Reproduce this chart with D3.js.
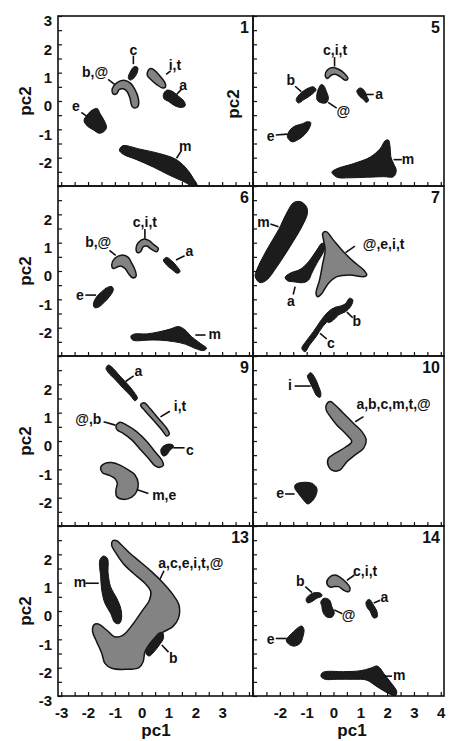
<!DOCTYPE html>
<html>
<head>
<meta charset="utf-8">
<script src="https://cdnjs.cloudflare.com/ajax/libs/d3/7.8.5/d3.min.js"></script>
<style>
body { margin: 0; background: #fff; }
svg text { font-family: "Liberation Sans", Arial, Helvetica, sans-serif; font-weight: bold; fill: #111; }
</style>
</head>
<body>
<div id="chart"></div>
<script>
// panel names, in reading order (2 columns x 4 rows)
var panelNames = ["1", "5", "6", "7", "9", "10", "13", "14"];

// tick labels
var yLabelsTop = [3, 2, 1, 0, -1, -2];
var yLabelsMid = [2, 1, 0, -1, -2];
var yLabelsBottom = [2, 1, 0, -1, -2, -3];
var xLabelsLeft = [-3, -2, -1, 0, 1, 2, 3];
var xLabelsRight = [-2, -1, 0, 1, 2, 3, 4];

// region outlines, [pc1, pc2]
var p1_bat = [[-1.10,0.43],[-0.93,0.64],[-0.66,0.73],[-0.41,0.62],[-0.25,0.40],[-0.13,0.11],[-0.13,-0.17],[-0.25,-0.25],[-0.37,-0.17],[-0.44,0.11],[-0.56,0.35],[-0.69,0.43],[-0.84,0.40],[-0.93,0.26],[-1.06,0.25]];
var p1_c = [[-0.50,0.82],[-0.41,1.06],[-0.28,1.21],[-0.15,1.18],[-0.16,1.02],[-0.31,0.79],[-0.44,0.74]];
var p1_it = [[0.21,1.0],[0.31,1.14],[0.46,1.10],[0.68,0.88],[0.87,0.64],[0.89,0.5],[0.78,0.46],[0.56,0.58],[0.34,0.76],[0.22,0.88]];
var p1_a = [[0.81,0.23],[0.93,0.38],[1.12,0.35],[1.37,0.17],[1.58,-0.01],[1.62,-0.17],[1.49,-0.23],[1.24,-0.17],[0.99,-0.01],[0.83,0.08]];
var p1_e = [[-2.03,-0.49],[-1.83,-0.31],[-1.65,-0.27],[-1.56,-0.43],[-1.41,-0.67],[-1.31,-0.93],[-1.41,-1.08],[-1.58,-1.14],[-1.80,-1.02],[-2.03,-0.88],[-2.15,-0.69]];
var p1_m = [[-0.71,-1.58],[-0.06,-1.70],[0.68,-1.86],[1.24,-2.04],[1.62,-2.33],[1.90,-2.69],[2.08,-3.02],[1.99,-3.07],[1.62,-2.87],[1.06,-2.63],[0.43,-2.33],[-0.19,-2.07],[-0.69,-1.88],[-0.83,-1.74]];

var p5_cit = [[-0.31,0.9],[-0.22,1.1],[-0.02,1.18],[0.19,1.12],[0.40,0.98],[0.54,0.79],[0.44,0.73],[0.25,0.86],[0.06,0.94],[-0.1,0.9],[-0.22,0.79]];
var p5_b = [[-1.39,0.05],[-1.24,0.26],[-0.99,0.43],[-0.75,0.5],[-0.65,0.4],[-0.81,0.23],[-1.1,0.05],[-1.31,-0.07]];
var p5_at = [[-0.46,0.58],[-0.37,0.55],[-0.27,0.35],[-0.19,0.11],[-0.25,-0.05],[-0.43,-0.07],[-0.6,0.02],[-0.62,0.23],[-0.56,0.43]];
var p5_a = [[0.87,0.35],[0.99,0.46],[1.14,0.38],[1.24,0.17],[1.31,0.02],[1.22,-0.05],[1.12,0.05],[0.97,0.17]];
var p5_e = [[-1.72,-1.26],[-1.62,-1.02],[-1.43,-0.88],[-1.18,-0.81],[-0.97,-0.73],[-0.85,-0.76],[-0.9,-0.96],[-1.06,-1.17],[-1.31,-1.36],[-1.55,-1.44]];
var p5_m = [[-0.06,-2.51],[0.13,-2.39],[0.75,-2.21],[1.37,-1.98],[1.74,-1.68],[1.93,-1.4],[2.05,-1.38],[2.11,-1.62],[2.14,-1.98],[2.24,-2.21],[2.34,-2.45],[2.24,-2.67],[1.87,-2.67],[1.24,-2.69],[0.62,-2.71],[0.13,-2.69]];

var p6_bat = [[-1.12,0.21],[-1.0,0.45],[-0.75,0.56],[-0.5,0.48],[-0.37,0.27],[-0.25,0.04],[-0.21,-0.18],[-0.34,-0.24],[-0.5,-0.08],[-0.62,0.09],[-0.79,0.18],[-0.93,0.13],[-1.06,0.09]];
var p6_cit = [[-0.21,0.8],[-0.13,1.0],[0.09,1.13],[0.28,1.07],[0.46,0.92],[0.62,0.8],[0.56,0.68],[0.37,0.76],[0.19,0.88],[0.06,0.86],[-0.04,0.68],[-0.16,0.65]];
var p6_a = [[0.81,0.39],[0.93,0.48],[1.12,0.36],[1.30,0.18],[1.43,-0.02],[1.33,-0.08],[1.12,0.06],[0.93,0.21]];
var p6_e = [[-1.8,-1.16],[-1.68,-0.91],[-1.49,-0.73],[-1.28,-0.58],[-1.11,-0.55],[-1.06,-0.67],[-1.18,-0.88],[-1.41,-1.12],[-1.62,-1.28],[-1.76,-1.29]];
var p6_m = [[-0.4,-2.29],[-0.25,-2.22],[0.19,-2.22],[0.68,-2.14],[1.06,-2.05],[1.37,-1.96],[1.62,-2.08],[1.86,-2.32],[2.18,-2.55],[2.42,-2.73],[2.3,-2.81],[1.99,-2.73],[1.62,-2.58],[1.18,-2.49],[0.68,-2.44],[0.19,-2.44],[-0.25,-2.46],[-0.37,-2.41]];

var p7_m = [[-2.92,-0.2],[-2.86,0.04],[-2.49,0.74],[-2.05,1.45],[-1.72,2.09],[-1.49,2.41],[-1.24,2.45],[-1.02,2.29],[-0.97,2.04],[-1.18,1.56],[-1.62,0.86],[-2.11,0.15],[-2.49,-0.32],[-2.74,-0.41]];
var p7_a = [[-1.8,-0.22],[-1.62,-0.08],[-1.24,0.06],[-0.93,0.33],[-0.62,0.74],[-0.43,0.98],[-0.31,0.92],[-0.37,0.68],[-0.62,0.27],[-0.81,-0.08],[-0.93,-0.32],[-1.12,-0.41],[-1.49,-0.38],[-1.72,-0.34]];
var p7_aeit = [[-0.4,1.33],[-0.27,1.39],[0.0,1.09],[0.37,0.68],[0.75,0.33],[1.12,0.04],[1.24,-0.14],[1.12,-0.2],[0.62,-0.14],[0.13,-0.2],[-0.19,-0.44],[-0.43,-0.79],[-0.58,-0.91],[-0.65,-0.79],[-0.52,-0.32],[-0.4,0.27],[-0.31,0.74],[-0.37,1.09]];
var p7_b = [[-0.31,-1.67],[-0.12,-1.44],[0.06,-1.28],[0.25,-1.24],[0.44,-1.16],[0.6,-0.96],[0.72,-1.02],[0.65,-1.24],[0.44,-1.44],[0.19,-1.55],[0.0,-1.73],[-0.19,-1.82]];
var p7_c = [[-1.18,-2.73],[-0.99,-2.44],[-0.75,-2.14],[-0.5,-1.79],[-0.25,-1.49],[0.0,-1.32],[0.1,-1.4],[-0.12,-1.67],[-0.4,-1.96],[-0.65,-2.32],[-0.89,-2.61],[-1.06,-2.85]];

var p9_a = [[-1.33,2.56],[-1.24,2.68],[-1.06,2.56],[-0.81,2.29],[-0.5,1.98],[-0.25,1.68],[-0.16,1.51],[-0.25,1.42],[-0.41,1.59],[-0.69,1.86],[-1.0,2.18],[-1.24,2.41]];
var p9_it = [[-0.04,1.27],[0.09,1.35],[0.31,1.15],[0.62,0.8],[0.93,0.45],[1.03,0.25],[0.93,0.18],[0.75,0.39],[0.43,0.74],[0.12,1.07]];
var p9_atb = [[-0.96,0.53],[-0.81,0.66],[-0.56,0.56],[-0.19,0.33],[0.19,-0.02],[0.5,-0.38],[0.75,-0.67],[0.81,-0.85],[0.68,-0.93],[0.5,-0.88],[0.25,-0.61],[-0.06,-0.29],[-0.37,0.04],[-0.69,0.27],[-0.91,0.39]];
var p9_c = [[0.72,-0.29],[0.81,-0.18],[0.99,-0.11],[1.16,-0.14],[1.18,-0.22],[1.06,-0.32],[0.93,-0.49],[0.81,-0.53],[0.73,-0.44]];
var p9_me = [[-1.53,-0.93],[-1.37,-0.79],[-1.12,-0.76],[-0.81,-0.85],[-0.5,-1.02],[-0.25,-1.2],[-0.13,-1.49],[-0.19,-1.79],[-0.37,-1.98],[-0.69,-2.06],[-0.93,-1.96],[-0.96,-1.73],[-0.91,-1.49],[-1.0,-1.32],[-1.24,-1.2],[-1.46,-1.12]];

var p10_i = [[-0.97,2.29],[-0.85,2.41],[-0.68,2.21],[-0.56,1.94],[-0.47,1.68],[-0.5,1.54],[-0.62,1.59],[-0.75,1.82],[-0.87,2.06]];
var p10_abcmt = [[-0.27,1.27],[-0.12,1.39],[0.06,1.27],[0.37,0.98],[0.75,0.62],[1.06,0.33],[1.22,0.04],[1.12,-0.26],[0.81,-0.49],[0.5,-0.73],[0.25,-1.02],[0.0,-1.05],[-0.19,-0.88],[-0.19,-0.61],[0.06,-0.44],[0.44,-0.22],[0.68,-0.02],[0.5,0.21],[0.13,0.56],[-0.12,0.86],[-0.27,1.09]];
var p10_e = [[-1.43,-1.55],[-1.24,-1.47],[-0.81,-1.49],[-0.62,-1.67],[-0.65,-1.91],[-0.81,-2.14],[-0.97,-2.22],[-1.12,-2.08],[-1.31,-1.85],[-1.44,-1.67]];

var p13_m = [[-1.56,1.8],[-1.43,1.94],[-1.28,1.86],[-1.25,1.33],[-1.16,0.86],[-0.93,0.45],[-0.78,0.09],[-0.75,-0.26],[-0.83,-0.44],[-1.0,-0.41],[-1.16,-0.08],[-1.37,0.27],[-1.49,0.74],[-1.53,1.21]];
var p13_big = [[-0.93,2.48],[-0.75,2.33],[-0.44,2.04],[-0.06,1.74],[0.37,1.39],[0.81,0.98],[1.18,0.56],[1.39,0.21],[1.37,-0.26],[1.16,-0.55],[0.85,-0.72],[0.55,-0.9],[0.3,-1.15],[0.12,-1.45],[0.05,-1.8],[-0.1,-2.0],[-0.62,-2.06],[-1.12,-2.02],[-1.37,-1.85],[-1.49,-1.49],[-1.68,-1.08],[-1.83,-0.73],[-1.78,-0.49],[-1.62,-0.46],[-1.31,-0.67],[-1.0,-0.91],[-0.69,-0.85],[-0.31,-0.44],[0.0,-0.02],[0.29,0.39],[0.34,0.68],[0.12,0.98],[-0.31,1.33],[-0.69,1.68],[-0.96,2.04],[-1.12,2.33],[-1.08,2.48]];
var p13_b = [[0.16,-1.49],[0.25,-1.26],[0.43,-1.02],[0.62,-0.79],[0.78,-0.76],[0.81,-0.96],[0.66,-1.2],[0.46,-1.44],[0.28,-1.59]];

var p14_cit = [[-0.25,0.98],[-0.15,1.19],[0.06,1.27],[0.25,1.19],[0.5,0.98],[0.62,0.8],[0.56,0.68],[0.37,0.74],[0.19,0.86],[0.0,0.86],[-0.12,0.84]];
var p14_b = [[-1.02,0.41],[-0.9,0.56],[-0.68,0.65],[-0.47,0.62],[-0.43,0.53],[-0.62,0.45],[-0.81,0.33],[-0.97,0.29]];
var p14_at = [[-0.47,0.33],[-0.35,0.45],[-0.15,0.39],[-0.06,0.15],[0.03,-0.06],[-0.06,-0.22],[-0.27,-0.2],[-0.4,-0.02],[-0.43,0.15]];
var p14_a = [[1.22,0.33],[1.34,0.41],[1.49,0.21],[1.62,-0.02],[1.62,-0.22],[1.49,-0.24],[1.37,-0.02],[1.24,0.15]];
var p14_e = [[-1.76,-1.02],[-1.62,-0.85],[-1.49,-0.73],[-1.31,-0.58],[-1.18,-0.53],[-1.1,-0.65],[-1.14,-0.91],[-1.24,-1.14],[-1.47,-1.24],[-1.68,-1.16]];
var p14_m = [[-0.44,-2.2],[-0.31,-2.14],[0.37,-2.14],[0.99,-2.11],[1.37,-2.02],[1.62,-1.94],[1.74,-2.02],[1.87,-2.2],[2.11,-2.49],[2.36,-2.85],[2.3,-3.0],[2.05,-2.91],[1.62,-2.67],[1.24,-2.44],[0.75,-2.41],[0.13,-2.41],[-0.31,-2.41],[-0.46,-2.32]];

// [panel, tone, outline]
var regions = [
    ["1", "gray", p1_bat], ["1", "dark", p1_c], ["1", "gray", p1_it], ["1", "dark", p1_a], ["1", "dark", p1_e], ["1", "dark", p1_m],
    ["5", "gray", p5_cit], ["5", "dark", p5_b], ["5", "dark", p5_at], ["5", "dark", p5_a], ["5", "dark", p5_e], ["5", "dark", p5_m],
    ["6", "gray", p6_bat], ["6", "gray", p6_cit], ["6", "dark", p6_a], ["6", "dark", p6_e], ["6", "dark", p6_m],
    ["7", "dark", p7_m], ["7", "dark", p7_a], ["7", "gray", p7_aeit], ["7", "dark", p7_b], ["7", "dark", p7_c],
    ["9", "dark", p9_a], ["9", "gray", p9_it], ["9", "gray", p9_atb], ["9", "dark", p9_c], ["9", "gray", p9_me],
    ["10", "dark", p10_i], ["10", "gray", p10_abcmt], ["10", "dark", p10_e],
    ["13", "gray", p13_big], ["13", "dark", p13_m], ["13", "dark", p13_b],
    ["14", "gray", p14_cit], ["14", "dark", p14_b], ["14", "dark", p14_at], ["14", "dark", p14_a], ["14", "dark", p14_e], ["14", "dark", p14_m]
];

// [panel, text, pc1, pc2, anchor, leader x1, y1, x2, y2]
var labels = [
    ["1", "b,@", -1.74, 0.98, "middle", -1.25, 0.76, -1.0, 0.58],
    ["1", "c", -0.31, 1.77, "middle", -0.31, 1.6, -0.31, 1.3],
    ["1", "i,t", 1.24, 1.24, "middle", 0.91, 0.94, 1.08, 1.06],
    ["1", "a", 1.55, 0.55, "middle", 1.30, 0.23, 1.47, 0.40],
    ["1", "e", -2.45, -0.21, "middle", -2.25, -0.40, -2.0, -0.57],
    ["1", "m", 1.62, -1.62, "middle", 1.48, -1.75, 1.30, -2.02],
    ["5", "c,i,t", 0.06, 1.77, "middle", 0.04, 1.55, 0.04, 1.22],
    ["5", "b", -1.59, 0.70, "middle", -1.43, 0.52, -1.2, 0.33],
    ["5", "@", 0.37, -0.37, "middle", -0.2, -0.05, 0.12, -0.25],
    ["5", "a", 1.70, 0.23, "middle", 1.2, 0.23, 1.5, 0.23],
    ["5", "e", -2.34, -1.26, "middle", -2.15, -1.2, -1.72, -1.17],
    ["5", "m", 2.78, -2.07, "middle", 2.24, -2.07, 2.55, -2.07],
    ["6", "b,@", -1.62, 0.98, "middle", -1.2, 0.73, -0.97, 0.55],
    ["6", "c,i,t", 0.12, 1.70, "middle", 0.12, 1.48, 0.12, 1.14],
    ["6", "a", 1.78, 0.68, "middle", 1.28, 0.39, 1.6, 0.54],
    ["6", "e", -2.3, -0.88, "middle", -2.1, -0.85, -1.7, -0.85],
    ["6", "m", 2.72, -2.26, "middle", 2.0, -2.26, 2.38, -2.26],
    ["7", "m", -2.61, 1.71, "middle", -2.35, 1.66, -2.05, 1.56],
    ["7", "a", -1.59, -1.08, "middle", -1.5, -0.83, -1.43, -0.55],
    ["7", "@,e,i,t", 1.87, 0.92, "middle", 0.45, 0.65, 0.8, 0.88],
    ["7", "b", 0.87, -1.79, "middle", 0.5, -1.45, 0.72, -1.65],
    ["7", "c", -0.1, -2.58, "middle", -0.5, -2.2, -0.25, -2.4],
    ["9", "a", -0.12, 2.45, "middle", -0.6, 2.1, -0.3, 2.3],
    ["9", "i,t", 1.43, 1.21, "middle", 0.7, 0.85, 1.05, 1.05],
    ["9", "@,b", -1.99, 0.74, "middle", -1.42, 0.68, -0.98, 0.56],
    ["9", "c", 1.80, -0.34, "middle", 1.18, -0.24, 1.6, -0.24],
    ["9", "m,e", 0.84, -1.94, "middle", -0.16, -1.72, 0.25, -1.85],
    ["10", "i", -1.62, 1.94, "middle", -1.45, 1.94, -0.85, 1.94],
    ["10", "a,b,c,m,t,@", 2.24, 1.27, "middle", 0.81, 0.68, 1.12, 0.86],
    ["10", "e", -1.99, -1.87, "middle", -1.8, -1.87, -1.45, -1.87],
    ["13", "m", -2.3, 0.98, "middle", -2.1, 0.98, -1.6, 0.98],
    ["13", "a,c,e,i,t,@", 0.62, 1.68, "start", 0.68, 1.12, 0.83, 1.42],
    ["13", "b", 1.18, -1.67, "middle", 0.75, -1.2, 1.0, -1.45],
    ["14", "c,i,t", 1.18, 1.39, "middle", 0.5, 1.08, 0.78, 1.27],
    ["14", "b", -1.24, 1.04, "middle", -1.05, 0.86, -0.8, 0.65],
    ["14", "@", 0.56, -0.18, "middle", 0.03, 0.04, 0.33, -0.1],
    ["14", "a", 1.9, 0.45, "middle", 1.5, 0.28, 1.74, 0.38],
    ["14", "e", -2.34, -1.0, "middle", -2.15, -0.97, -1.75, -0.97],
    ["14", "m", 2.45, -2.3, "middle", 1.87, -2.3, 2.18, -2.3]
];

var width = 449, height = 741;
var colEdges = [58, 253, 444];
var rowTop = 16, rowH = 170;

var svg = d3.select("#chart")
    .append("svg")
    .attr("width", width)
    .attr("height", height);

// x scales for the two columns
var xScales = [
    d3.scaleLinear().domain([-3.12, 4.15]).range([colEdges[0], colEdges[1]]),
    d3.scaleLinear().domain([-3.0, 4.12]).range([colEdges[1], colEdges[2]])
];

var halfY = d3.range(-3, 3.01, 0.5);
var halfX = d3.range(-3, 4.01, 0.5);

var line = d3.line().curve(d3.curveCatmullRomClosed.alpha(0.5));

panelNames.forEach(function(name, i) {
    var row = Math.floor(i / 2), col = i % 2;
    var x = xScales[col];
    var y = d3.scaleLinear().domain([-3, 3]).range([rowTop + rowH * (row + 1), rowTop + rowH * row]);
    var x0 = x.range()[0], x1 = x.range()[1];
    var y0 = y.range()[1], y1 = y.range()[0];

    var g = svg.append("g");

    var clipId = "clip" + i;
    svg.append("clipPath").attr("id", clipId)
        .append("rect").attr("x", x0).attr("y", y0).attr("width", x1 - x0).attr("height", y1 - y0);

    var marks = g.append("g").attr("clip-path", "url(#" + clipId + ")");

    // regions
    regions.filter(function(d) { return d[0] === name; }).forEach(function(d) {
        marks.append("path")
            .attr("d", line(d[2].map(function(p) { return [x(p[0]), y(p[1])]; })))
            .attr("fill", d[1] === "gray" ? "#838383" : "#1c1c1c")
            .attr("stroke", "#141414")
            .attr("stroke-width", d[1] === "gray" ? 1.5 : 1)
            .attr("stroke-linejoin", "round");
    });

    // labels with leader lines
    labels.filter(function(d) { return d[0] === name; }).forEach(function(d) {
        g.append("line")
            .attr("x1", x(d[5])).attr("y1", y(d[6]))
            .attr("x2", x(d[7])).attr("y2", y(d[8]))
            .attr("stroke", "#111").attr("stroke-width", 1.6);
        g.append("text")
            .attr("x", x(d[2])).attr("y", y(d[3]))
            .attr("dy", "0.3em")
            .attr("text-anchor", d[4])
            .style("font-size", "14px")
            .text(d[1]);
    });

    // left axis
    var yLab = row === 0 ? yLabelsTop : (row === 3 ? yLabelsBottom : yLabelsMid);
    var ya = g.append("g")
        .attr("transform", "translate(" + x0 + ",0)")
        .call(d3.axisLeft(y).tickValues(halfY).tickSize(-4).tickPadding(6)
            .tickFormat(function(d) { return (col === 0 && yLab.indexOf(d) >= 0) ? String(d) : ""; }));
    ya.select(".domain").remove();
    ya.selectAll("line").attr("stroke", "#111").attr("stroke-width", 1.2);
    ya.selectAll("text").attr("y", 5).style("font-size", "15px").attr("fill", "#111");

    // bottom axis
    var xLab = col === 0 ? xLabelsLeft : xLabelsRight;
    var xa = g.append("g")
        .attr("transform", "translate(0," + y1 + ")")
        .call(d3.axisBottom(x).tickValues(halfX.filter(function(v) { return v >= x.domain()[0] && v <= x.domain()[1]; }))
            .tickSize(-4).tickPadding(11)
            .tickFormat(function(d) { return (row === 3 && xLab.indexOf(d) >= 0) ? String(d) : ""; }));
    xa.select(".domain").remove();
    xa.selectAll("line").attr("stroke", "#111").attr("stroke-width", 1.2);
    xa.selectAll("text").style("font-size", "15px").attr("fill", "#111");

    // frame
    g.append("rect")
        .attr("x", x0).attr("y", y0)
        .attr("width", x1 - x0).attr("height", y1 - y0)
        .attr("fill", "none")
        .attr("stroke", "#111")
        .attr("stroke-width", 1.6);

    // panel number
    g.append("text")
        .attr("x", x1 - 4).attr("y", y0 + 17)
        .attr("text-anchor", "end")
        .style("font-size", "16px")
        .text(name);

    // pc2 title
    if (col === 0) {
        svg.append("text")
            .attr("transform", "translate(31," + (y0 + rowH / 2) + ") rotate(-90)")
            .attr("text-anchor", "middle")
            .style("font-size", "17px")
            .text("pc2");
    }
});

// stray pc2 title inside panel 1
svg.append("text")
    .attr("transform", "translate(239," + (rowTop + rowH / 2 + 3) + ") rotate(-90)")
    .attr("text-anchor", "middle")
    .style("font-size", "17px")
    .text("pc2");

// pc1 titles
svg.append("text").attr("x", 156).attr("y", 736).attr("text-anchor", "middle").style("font-size", "17px").text("pc1");
svg.append("text").attr("x", 352).attr("y", 736).attr("text-anchor", "middle").style("font-size", "17px").text("pc1");
</script>
</body>
</html>
